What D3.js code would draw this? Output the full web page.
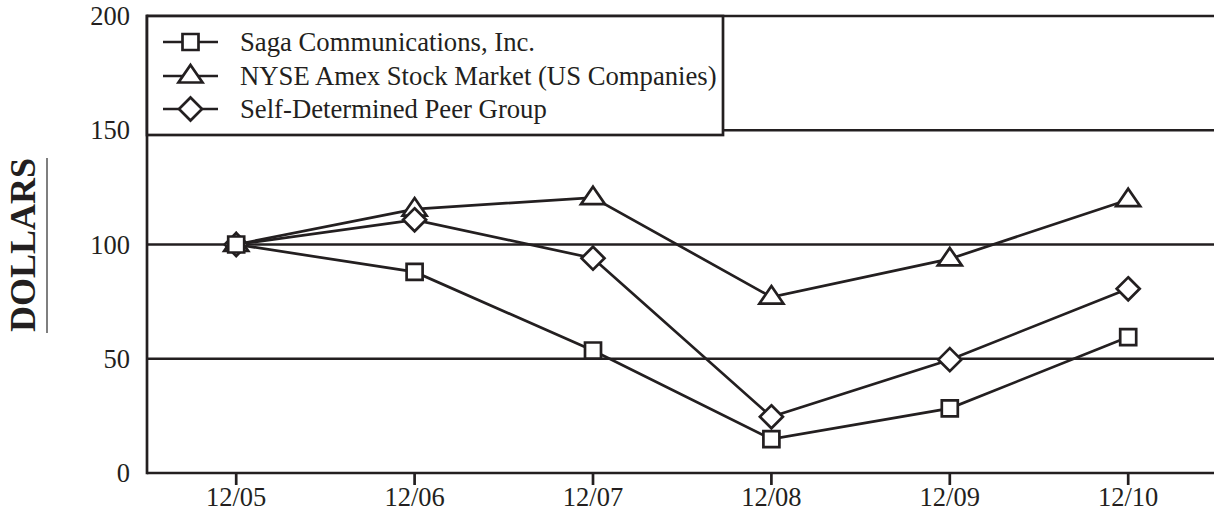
<!DOCTYPE html>
<html>
<head>
<meta charset="utf-8">
<script src="https://cdn.jsdelivr.net/npm/d3@7/dist/d3.min.js"></script>
<style>
  html, body { margin: 0; padding: 0; background: #fff; }
  svg { display: block; }
  text { font-family: "Liberation Serif", "Times New Roman", serif; fill: #231f20; }
</style>
</head>
<body>
<svg id="chart" width="1214" height="521"></svg>
<script>
const categories = ["12/05", "12/06", "12/07", "12/08", "12/09", "12/10"];
const sagaValues = [100, 88, 53.6, 14.8, 28.3, 59.5];
const nyseValues = [100, 115.5, 120.5, 77, 93.7, 119.6];
const peerValues = [100, 110.8, 94, 24.6, 49.6, 80.6];
const seriesNames = ["Saga Communications, Inc.", "NYSE Amex Stock Market (US Companies)", "Self-Determined Peer Group"];
const yTicks = [0, 50, 100, 150, 200];
const yTitle = "DOLLARS";

(function () {
const ink = "#231f20";
const sw = 2.7;
const svg = d3.select("#chart");
const W = 1214;
const pLeft = 147, pTop = 16, pBottom = 473;

const x = d3.scaleBand().domain(categories).range([pLeft, pLeft + 6 * 178.4]).paddingInner(0).paddingOuter(0);
const cx = d => x(d) + x.bandwidth() / 2;
const y = d3.scaleLinear().domain([0, 200]).range([pBottom, pTop]);

// gridlines
svg.append("g").selectAll("line").data(yTicks.filter(t => t > 0)).join("line")
  .attr("x1", pLeft).attr("x2", W)
  .attr("y1", d => y(d)).attr("y2", d => y(d))
  .attr("stroke", ink).attr("stroke-width", sw);

// y labels
svg.append("g").selectAll("text").data(yTicks).join("text")
  .attr("x", 130).attr("y", d => y(d) + 9)
  .attr("text-anchor", "end").attr("font-size", 26.5)
  .text(d => d);

// axes
svg.append("line").attr("x1", pLeft).attr("x2", pLeft).attr("y1", pTop - sw / 2).attr("y2", pBottom + sw / 2)
  .attr("stroke", ink).attr("stroke-width", sw);
svg.append("line").attr("x1", pLeft).attr("x2", W).attr("y1", pBottom).attr("y2", pBottom)
  .attr("stroke", ink).attr("stroke-width", sw);

// x ticks & labels
const xg = svg.append("g");
xg.selectAll("line").data(categories).join("line")
  .attr("x1", d => cx(d)).attr("x2", d => cx(d))
  .attr("y1", pBottom).attr("y2", pBottom + 12)
  .attr("stroke", ink).attr("stroke-width", sw);
xg.selectAll("text").data(categories).join("text")
  .attr("x", d => cx(d)).attr("y", 506)
  .attr("text-anchor", "middle").attr("font-size", 26.5)
  .text(d => d);

// y title
svg.append("text")
  .attr("transform", "translate(35,245) rotate(-90)")
  .attr("text-anchor", "middle").attr("font-size", 36).attr("font-weight", "bold")
  .text(yTitle);
svg.append("line").attr("x1", 47).attr("x2", 47).attr("y1", 158).attr("y2", 333)
  .attr("stroke", "#555").attr("stroke-width", 1.5);

// marker shapes
const markerPath = {
  square: "M-8,-8H8V8H-8Z",
  triangle: "M0,-11L12,6.5L-12,6.5Z",
  diamond: "M0,-11.5L11.5,0L0,11.5L-11.5,0Z"
};

const series = [
  { name: seriesNames[1], values: nyseValues, marker: "triangle" },
  { name: seriesNames[2], values: peerValues, marker: "diamond" },
  { name: seriesNames[0], values: sagaValues, marker: "square" }
];

const line = d3.line().x((d, i) => cx(categories[i])).y(d => y(d));

series.forEach(s => {
  svg.append("path").datum(s.values).attr("d", line)
    .attr("fill", "none").attr("stroke", ink).attr("stroke-width", sw);
});
series.forEach(s => {
  svg.append("g").selectAll("path").data(s.values).join("path")
    .attr("transform", (d, i) => `translate(${cx(categories[i])},${y(d)})`)
    .attr("d", markerPath[s.marker])
    .attr("fill", "#fff").attr("stroke", ink).attr("stroke-width", sw)
    .attr("stroke-linejoin", "miter");
});

// legend
const lg = svg.append("g");
lg.append("rect").attr("x", pLeft).attr("y", pTop).attr("width", 723 - pLeft).attr("height", 135 - pTop)
  .attr("fill", "#fff").attr("stroke", ink).attr("stroke-width", sw);
const legendItems = [
  { name: seriesNames[0], marker: "square" },
  { name: seriesNames[1], marker: "triangle" },
  { name: seriesNames[2], marker: "diamond" }
];
const rowY = [42, 76, 109];
legendItems.forEach((it, i) => {
  const ry = rowY[i];
  lg.append("line").attr("x1", 163).attr("x2", 218).attr("y1", ry).attr("y2", ry)
    .attr("stroke", ink).attr("stroke-width", sw);
  lg.append("path").attr("transform", `translate(190.5,${ry})`).attr("d", markerPath[it.marker])
    .attr("fill", "#fff").attr("stroke", ink).attr("stroke-width", sw);
  lg.append("text").attr("x", 240).attr("y", ry + 8.5).attr("font-size", 26.7).text(it.name);
});
})();
</script>
</body>
</html>
